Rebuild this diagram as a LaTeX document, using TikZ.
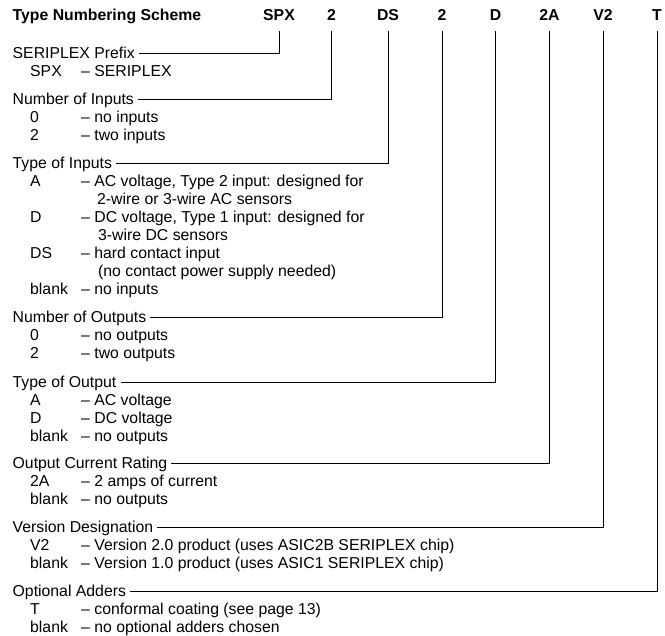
\documentclass[tikz,border=0pt]{standalone}
\usepackage{fontspec}
\setmainfont{Liberation Sans}
\usepackage{tikz}
\tikzset{
  font={\fontsize{15.8pt}{18}\selectfont}}
\tikzset{
  head/.style={font={\fontsize{15.8pt}{18}\selectfont\bfseries}},
  item/.style={anchor=west},
  lead/.style={draw=black, line width=0.9pt, shorten <=4pt, shorten >=10.5pt}}

\begin{document}
\begin{tikzpicture}[x=1pt,y=1pt]
\tikzstyle{every node}+=[inner sep=0pt, text height=11.3pt, text depth=0pt]
\useasboundingbox (0,0) rectangle (665,-636);
% heading
\node [head, anchor=west] (hdr) at (12.5,-15) {Type Numbering Scheme};
\node [head] (hspx) at (279,-15) {SPX};
\node [head] (hnin) at (331.5,-15) {2};
\node [head] (htin) at (388,-15) {DS};
\node [head] (hnout) at (442,-15) {2};
\node [head] (htout) at (495.5,-15) {D};
\node [head] (hcur) at (549.5,-15) {2A};
\node [head] (hver) at (603,-15) {V2};
\node [head] (hadd) at (657,-15) {T};
% prefix
\node [item] (tspx) at (12.5,-53) {SERIPLEX Prefix};
\node [item] (c1) at (30,-71) {SPX};
\node [item] (d1) at (81,-71) {– SERIPLEX};
% inputs
\node [item] (tnin) at (12.5,-99) {Number of Inputs};
\node [item] (c2) at (30,-117) {0};
\node [item] (d2) at (81,-117) {– no inputs};
\node [item] (c3) at (30,-135) {2};
\node [item] (d3) at (81,-135) {– two inputs};
\node [item] (ttin) at (12.5,-163) {Type of Inputs};
\node [item] (c4) at (30,-181) {A};
\node [item] (d4) at (81,-181) {– AC voltage, Type 2 input: designed for};
\node [item] (e4) at (97,-199) {2-wire or 3-wire AC sensors};
\node [item] (c5) at (30,-217) {D};
\node [item] (d5) at (81,-217) {– DC voltage, Type 1 input: designed for};
\node [item] (e5) at (98,-235) {3-wire DC sensors};
\node [item] (c6) at (30,-253) {DS};
\node [item] (d6) at (81,-253) {– hard contact input};
\node [item] (e6) at (98,-271) {(no contact power supply needed)};
\node [item] (c7) at (30,-289) {blank};
\node [item] (d7) at (81,-289) {– no inputs};
% outputs
\node [item] (tnout) at (12.5,-317) {Number of Outputs};
\node [item] (c8) at (30,-335) {0};
\node [item] (d8) at (81,-335) {– no outputs};
\node [item] (c9) at (30,-353) {2};
\node [item] (d9) at (81,-353) {– two outputs};
\node [item] (ttout) at (12.5,-382) {Type of Output};
\node [item] (c10) at (30,-400) {A};
\node [item] (d10) at (81,-400) {– AC voltage};
\node [item] (c11) at (30,-418) {D};
\node [item] (d11) at (81,-418) {– DC voltage};
\node [item] (c12) at (30,-436) {blank};
\node [item] (d12) at (81,-436) {– no outputs};
\node [item] (tcur) at (12.5,-463) {Output Current Rating};
\node [item] (c13) at (30,-481) {2A};
\node [item] (d13) at (81,-481) {– 2 amps of current};
\node [item] (c14) at (30,-499) {blank};
\node [item] (d14) at (81,-499) {– no outputs};
% version and adders
\node [item] (tver) at (12.5,-527) {Version Designation};
\node [item] (c15) at (30,-545) {V2};
\node [item] (d15) at (81,-545) {– Version 2.0 product (uses ASIC2B SERIPLEX chip)};
\node [item] (c16) at (30,-563) {blank};
\node [item] (d16) at (81,-563) {– Version 1.0 product (uses ASIC1 SERIPLEX chip)};
\node [item] (tadd) at (12.5,-591) {Optional Adders};
\node [item] (c17) at (30,-609) {T};
\node [item] (d17) at (81,-609) {– conformal coating (see page 13)};
\node [item] (c18) at (30,-627) {blank};
\node [item] (d18) at (81,-627) {– no optional adders chosen};
% leader lines
\draw [lead] (tspx.east) -| (hspx.south);
\draw [lead] (tnin.east) -| (hnin.south);
\draw [lead] (ttin.east) -| (htin.south);
\draw [lead] (tnout.east) -| (hnout.south);
\draw [lead] (ttout.east) -| (htout.south);
\draw [lead] (tcur.east) -| (hcur.south);
\draw [lead] (tver.east) -| (hver.south);
\draw [lead] (tadd.east) -| (hadd.south);
\end{tikzpicture}
\end{document}
